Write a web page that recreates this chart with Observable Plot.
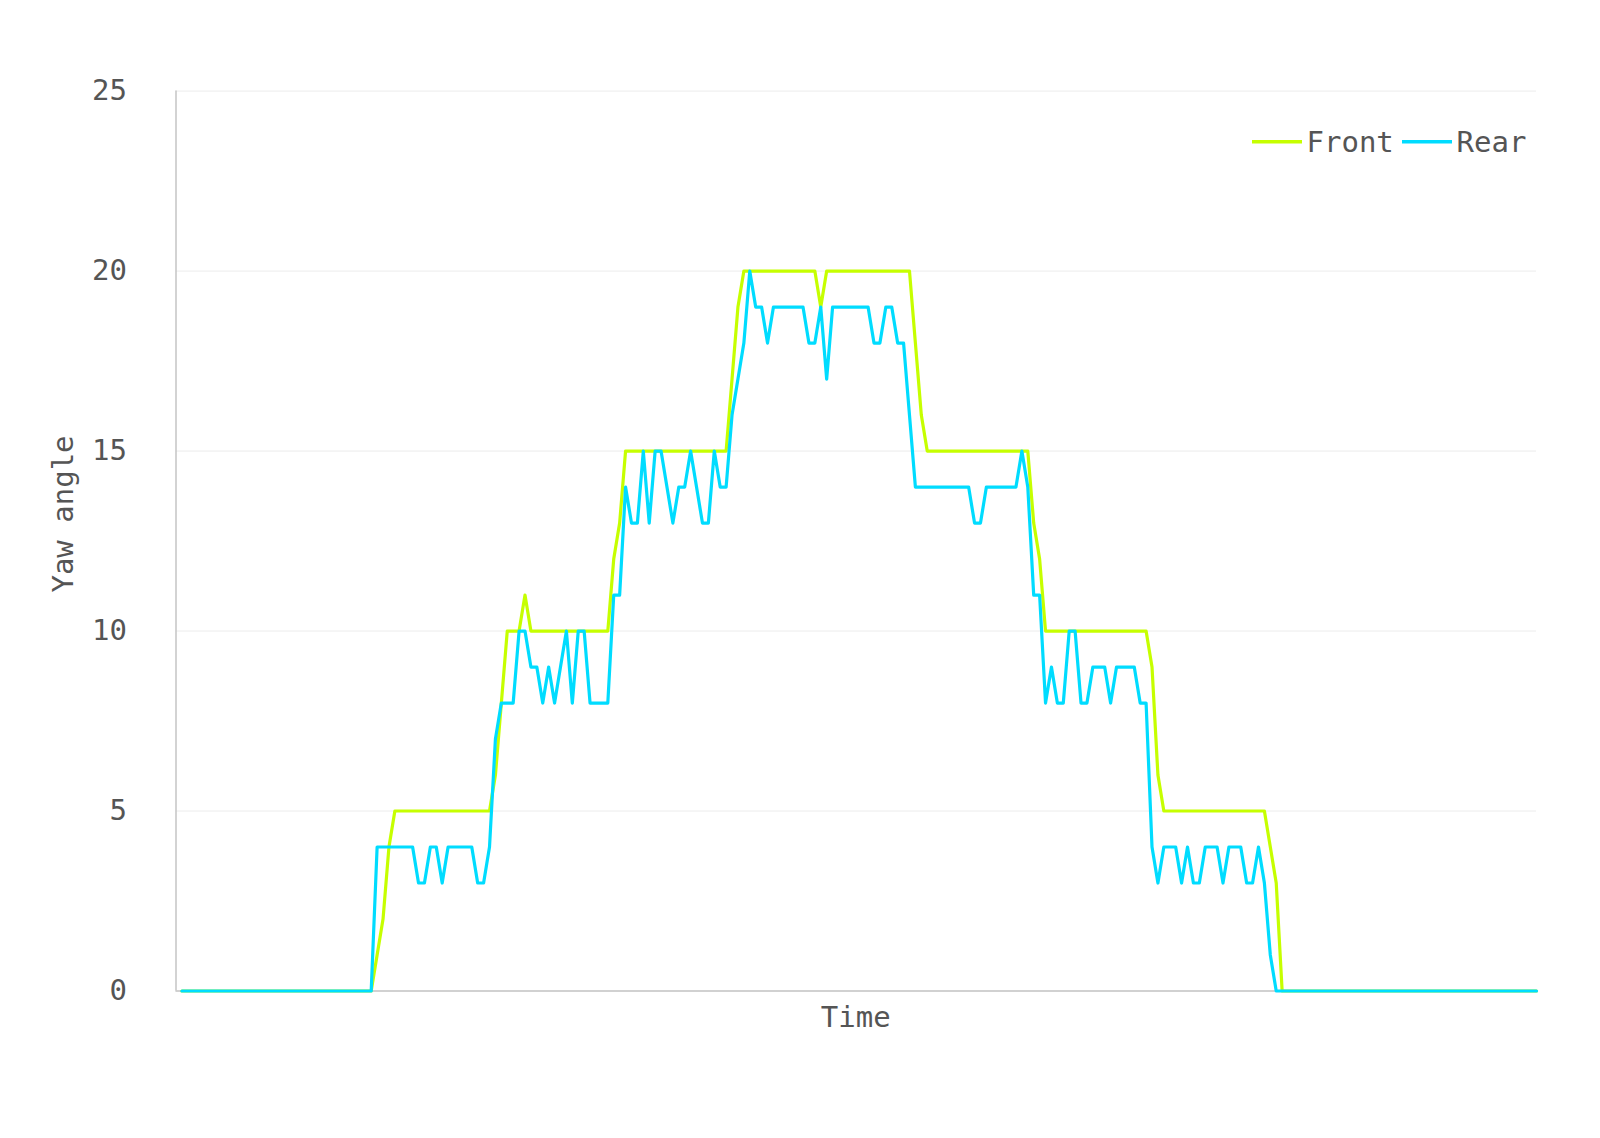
<!DOCTYPE html>
<html>
<head>
<meta charset="utf-8">
<script src="https://cdn.jsdelivr.net/npm/d3@7"></script>
<script src="https://cdn.jsdelivr.net/npm/@observablehq/plot@0.6"></script>
<style>
  html, body { margin: 0; padding: 0; background: #fff; }
  #chart svg { display: block; }
</style>
</head>
<body>
<div id="chart"></div>
<script>
// ---- data (sample index along Time) ----
const front = [
  0,0,0,0,0,0,0,0,0,0,
  0,0,0,0,0,0,0,0,0,0,
  0,0,0,0,0,0,0,0,0,0,
  0,0,0,1,2,4,5,5,5,5,
  5,5,5,5,5,5,5,5,5,5,
  5,5,5,6,8,10,10,10,11,10,
  10,10,10,10,10,10,10,10,10,10,
  10,10,10,12,13,15,15,15,15,15,
  15,15,15,15,15,15,15,15,15,15,
  15,15,15,17,19,20,20,20,20,20,
  20,20,20,20,20,20,20,20,19,20,
  20,20,20,20,20,20,20,20,20,20,
  20,20,20,20,18,16,15,15,15,15,
  15,15,15,15,15,15,15,15,15,15,
  15,15,15,15,13,12,10,10,10,10,
  10,10,10,10,10,10,10,10,10,10,
  10,10,10,10,9,6,5,5,5,5,
  5,5,5,5,5,5,5,5,5,5,
  5,5,5,5,4,3,0,0,0,0,
  0,0,0,0,0,0,0,0,0,0,
  0,0,0,0,0,0,0,0,0,0,
  0,0,0,0,0,0,0,0,0,0,
  0,0,0,0,0,0,0,0,0,0
];
const rear = [
  0,0,0,0,0,0,0,0,0,0,
  0,0,0,0,0,0,0,0,0,0,
  0,0,0,0,0,0,0,0,0,0,
  0,0,0,4,4,4,4,4,4,4,
  3,3,4,4,3,4,4,4,4,4,
  3,3,4,7,8,8,8,10,10,9,
  9,8,9,8,9,10,8,10,10,8,
  8,8,8,11,11,14,13,13,15,13,
  15,15,14,13,14,14,15,14,13,13,
  15,14,14,16,17,18,20,19,19,18,
  19,19,19,19,19,19,18,18,19,17,
  19,19,19,19,19,19,19,18,18,19,
  19,18,18,16,14,14,14,14,14,14,
  14,14,14,14,13,13,14,14,14,14,
  14,14,15,14,11,11,8,9,8,8,
  10,10,8,8,9,9,9,8,9,9,
  9,9,8,8,4,3,4,4,4,3,
  4,3,3,4,4,4,3,4,4,4,
  3,3,4,3,1,0,0,0,0,0,
  0,0,0,0,0,0,0,0,0,0,
  0,0,0,0,0,0,0,0,0,0,
  0,0,0,0,0,0,0,0,0,0,
  0,0,0,0,0,0,0,0,0,0
];
const yTicks = [0, 5, 10, 15, 20, 25];
const seriesNames = ["Front", "Rear"];
const seriesColors = ["#c6ff00", "#00dcff"];
const xLabel = "Time";
const yLabel = "Yaw angle";

// ---- build ----
const rows = front.map((f, i) => ({i, front: f, rear: rear[i]}));
const xDomain = [-1, front.length - 1];
const FONT = "'DejaVu Sans Mono', 'Liberation Mono', monospace";

const W = 1600, H = 1138;
const mL = 175.5, mR = 64, mT = 90.6, mB = 147.5;

const chart = Plot.plot({
  width: W,
  height: H,
  marginLeft: mL,
  marginRight: mR,
  marginTop: mT,
  marginBottom: mB,
  style: {fontFamily: FONT, fontSize: "29px", color: "#555", background: "#fff", overflow: "visible"},
  x: {domain: xDomain, axis: null},
  y: {domain: [0, 25], ticks: yTicks, tickSize: 0, tickPadding: 49, label: null},
  marks: [
    Plot.ruleY(yTicks, {stroke: "#ececec", strokeWidth: 1}),
    Plot.ruleX([xDomain[0]], {stroke: "#c4c4c4", strokeWidth: 1.5}),
    Plot.ruleY([0], {stroke: "#c4c4c4", strokeWidth: 1.5}),
    Plot.line(rows, {x: "i", y: "front", stroke: seriesColors[0], strokeWidth: 3.2}),
    Plot.line(rows, {x: "i", y: "rear", stroke: seriesColors[1], strokeWidth: 3.2})
  ]
});

document.getElementById("chart").appendChild(chart);

// axis titles and legend as SVG text
const svg = d3.select(chart);
const plotCx = (mL + (W - mR)) / 2;
svg.append("text")
  .attr("x", plotCx).attr("y", 1017)
  .attr("text-anchor", "middle").attr("dominant-baseline", "central")
  .attr("fill", "#555").style("font-family", FONT).style("font-size", "29px")
  .text(xLabel);
svg.append("text")
  .attr("transform", "translate(63.3,514) rotate(-90)")
  .attr("text-anchor", "middle").attr("dominant-baseline", "central")
  .attr("fill", "#555").style("font-family", FONT).style("font-size", "29px")
  .text(yLabel);

const legendItems = [
  {x1: 1252, x2: 1302, tx: 1306.5},
  {x1: 1402, x2: 1452, tx: 1456.5}
];
const lg = svg.append("g").attr("text-anchor", "start");
seriesNames.forEach((name, k) => {
  const it = legendItems[k];
  lg.append("line")
    .attr("x1", it.x1).attr("x2", it.x2).attr("y1", 141.7).attr("y2", 141.7)
    .attr("stroke", seriesColors[k]).attr("stroke-width", 3.5);
  lg.append("text")
    .attr("x", it.tx).attr("y", 141.5)
    .attr("text-anchor", "start")
    .attr("dominant-baseline", "central")
    .attr("fill", "#555").style("font-family", FONT).style("font-size", "29px")
    .text(name);
});
</script>
</body>
</html>
